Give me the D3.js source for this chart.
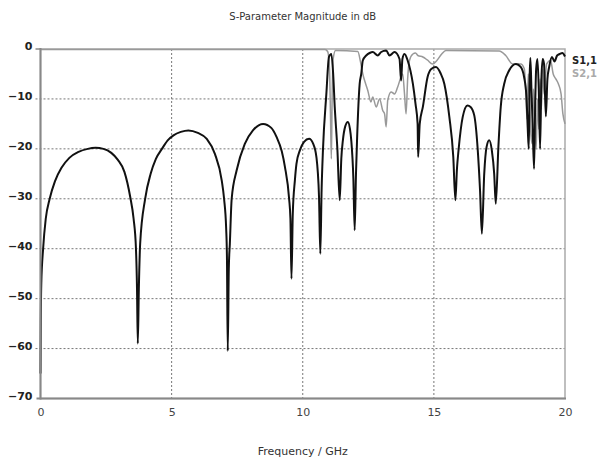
<!DOCTYPE html>
<html>
<head>
<meta charset="utf-8">
<script src="https://cdn.jsdelivr.net/npm/d3@7"></script>
<style>
  body { margin: 0; background: #fff; }
  svg { display: block; font-family: "DejaVu Sans", Verdana, sans-serif; }
</style>
</head>
<body>
<svg id="chart" width="607" height="463"></svg>
<script>
// values (GHz / dB)
const s11Freq = [0, 0.01, 0.03, 0.1, 0.2, 0.35, 0.55, 0.8, 1.1, 1.45, 1.8, 2.1, 2.4, 2.7, 2.95, 3.2, 3.42, 3.55, 3.64, 3.68, 3.71, 3.75, 3.8,
  3.99, 4.2, 4.4, 4.63, 4.85, 5.07, 5.35, 5.64, 6.0, 6.34, 6.65, 6.91, 7.0, 7.08, 7.11, 7.14, 7.18, 7.22,
  7.29, 7.48, 7.79, 8.1, 8.49, 8.8, 9.0, 9.2, 9.32, 9.48, 9.53, 9.57, 9.62, 9.7, 9.76, 9.89,
  10.05, 10.24, 10.4, 10.52, 10.62, 10.67, 10.72, 10.77, 10.9, 11.0, 11.09, 11.16, 11.22, 11.32, 11.41, 11.47,
  11.53, 11.62, 11.72, 11.8, 11.85, 11.93, 11.98, 12.03, 12.07, 12.17, 12.23, 12.29, 12.42, 12.55, 12.67,
  12.86, 12.99, 13.18, 13.31, 13.5, 13.69, 13.75, 13.8, 13.88, 14.0, 14.2, 14.3, 14.38, 14.4, 14.46, 14.58,
  14.76, 14.9, 15.08, 15.25, 15.4, 15.59, 15.74, 15.82, 15.88, 15.94, 16.1, 16.28, 16.4, 16.54, 16.67, 16.76,
  16.83, 16.92, 17.01, 17.11, 17.21, 17.3, 17.36, 17.46, 17.55, 17.68, 17.87, 18.13, 18.31, 18.44, 18.53,
  18.58, 18.62, 18.65, 18.68, 18.72, 18.77, 18.82, 18.86, 18.9, 18.95, 19.0, 19.05, 19.1, 19.15, 19.2,
  19.27, 19.33, 19.4, 19.5, 19.6, 19.7, 19.8, 19.9, 20.0];
const s11Db = [-65, -55, -47, -40, -34, -30, -26.5, -23.8, -21.8, -20.6, -20, -19.8, -20, -20.8, -22.2, -24.6, -29.6, -34, -40, -48, -59, -48, -39,
  -30, -25, -22, -20, -18.3, -17.3, -16.6, -16.3, -16.8, -18, -21, -26.3, -30, -36, -42, -60.5, -44, -39,
  -30, -24.3, -19, -16.3, -15, -15.8, -17.6, -20.5, -23.6, -30, -34, -46, -33, -26.3, -23, -20.3,
  -18.6, -18, -19, -21.6, -29.6, -41, -28, -20.3, -9, -1.6, -1, -5, -11.6, -20, -30.3, -22,
  -18.3, -15.5, -14.6, -16, -18.3, -26, -36.3, -25, -18.3, -7, -5, -2.3, -1.3, -0.8, -0.6,
  -1.3, -0.6, -0.3, -1.3, -0.6, -2, -6.3, -2, -1, -2.3, -7, -11, -15, -21.6, -15, -11.6,
  -5.6, -4, -3.6, -4.8, -7, -13.6, -21.6, -30.3, -24, -20.3, -13.6, -11.3, -11.6, -13.3, -20, -28.3,
  -37, -25, -19.6, -18.3, -20.3, -25, -31, -19.6, -11.6, -7, -4.3, -3, -3.6, -5.6, -9.6,
  -16, -20, -6, -1.8, -8, -16, -24, -12, -4, -2, -8, -20, -6, -2, -3,
  -13.5, -6, -3.5, -1.6, -2.5, -1.3, -1, -0.8, -1.5];

const s21Freq = [0, 10.85, 10.95, 11.02, 11.06, 11.09, 11.12, 11.16, 11.25, 12.1, 12.2, 12.29, 12.4, 12.48, 12.6, 12.67,
  12.8, 12.93, 13.05, 13.12, 13.18, 13.24, 13.37, 13.5, 13.62, 13.81, 13.88, 13.94, 14.0, 14.07, 14.2, 14.3,
  14.39, 14.58, 14.75, 14.95, 15.1, 15.3, 15.46, 17.49, 17.74, 18.0, 18.31, 18.45, 18.5, 18.55, 18.6, 18.65,
  18.7, 18.75, 18.8, 18.85, 18.9, 18.95, 19.0, 19.05, 19.1, 19.15, 19.2, 19.3, 19.45, 19.55, 19.65, 19.75,
  19.85, 19.92, 20.0];
const s21Db = [-0.1, -0.1, -0.5, -4, -14, -22, -10, -2, -0.3, -0.5, -2.5, -5, -7, -8.3, -10.6, -9.6,
  -11.6, -10, -12.3, -13, -15.6, -10.3, -8.6, -9, -7.6, -5, -9, -13, -6, -2.3, -1, -0.8,
  -1.3, -1.6, -2.2, -3, -2.4, -1, -0.3, -0.4, -1.3, -3, -3, -4, -8, -14, -5, -10,
  -17, -19, -8, -14, -20, -10, -16, -6, -12, -4, -9, -3, -2.3, -5, -6, -7,
  -9, -13, -15];

const xTicks = [0, 5, 10, 15, 20];
const yTicks = [0, -10, -20, -30, -40, -50, -60, -70];
const seriesNames = ["S1,1", "S2,1"];

const svg = d3.select("#chart");
const plotLeft = 40.5, plotRight = 565, plotTop = 49, plotBottom = 398.5;

const x = d3.scaleLinear().domain([0, 20]).range([plotLeft, plotRight]);
const y = d3.scaleLinear().domain([-70, 0]).range([plotBottom, plotTop]);

// grid
svg.append("g")
  .selectAll("line")
  .data(yTicks.filter(d => d !== 0 && d !== -70))
  .join("line")
    .attr("x1", plotLeft - 5).attr("x2", plotRight)
    .attr("y1", d => y(d)).attr("y2", d => y(d))
    .attr("stroke", "#777").attr("stroke-width", 1)
    .attr("stroke-dasharray", "2,2");

svg.append("g")
  .selectAll("line")
  .data(xTicks.filter(d => d !== 0 && d !== 20))
  .join("line")
    .attr("x1", d => x(d)).attr("x2", d => x(d))
    .attr("y1", plotTop).attr("y2", plotBottom)
    .attr("stroke", "#777").attr("stroke-width", 1)
    .attr("stroke-dasharray", "2,2");

// frame
svg.append("rect")
  .attr("x", plotLeft).attr("y", plotTop)
  .attr("width", plotRight - plotLeft).attr("height", plotBottom - plotTop)
  .attr("fill", "none").attr("stroke", "#aaa").attr("stroke-width", 1.5);

// curves
const line = d3.line()
  .x(d => x(d[0]))
  .y(d => y(d[1]))
  .curve(d3.curveMonotoneX);

svg.append("path")
  .datum(d3.zip(s21Freq, s21Db))
  .attr("fill", "none")
  .attr("stroke", "#999")
  .attr("stroke-width", 1.5)
  .attr("d", line);

svg.append("path")
  .datum(d3.zip(s11Freq, s11Db))
  .attr("fill", "none")
  .attr("stroke", "#111")
  .attr("stroke-width", 2)
  .attr("d", line);

// axes lines (left / bottom are darker)
svg.append("line")
  .attr("x1", plotLeft).attr("x2", plotLeft).attr("y1", plotTop - 1).attr("y2", plotBottom + 1)
  .attr("stroke", "#888").attr("stroke-width", 2);
svg.append("line")
  .attr("x1", plotLeft - 4).attr("x2", plotRight + 1).attr("y1", plotBottom).attr("y2", plotBottom)
  .attr("stroke", "#888").attr("stroke-width", 2);
svg.append("line")
  .attr("x1", plotLeft - 5).attr("x2", plotLeft).attr("y1", plotTop).attr("y2", plotTop)
  .attr("stroke", "#888").attr("stroke-width", 1.5);

// tick labels
svg.append("g")
  .attr("transform", `translate(${plotLeft},0)`)
  .call(d3.axisLeft(y).tickValues(yTicks).tickSize(0).tickPadding(8))
  .call(g => g.select(".domain").remove())
  .selectAll("text")
    .attr("dy", "0.05em")
    .attr("fill", "#222")
    .style("font-size", "11px")
    .style("font-weight", "bold")
    .style("font-family", "'DejaVu Sans', sans-serif");

svg.append("g")
  .attr("transform", `translate(0,${plotBottom})`)
  .call(d3.axisBottom(x).tickValues(xTicks).tickSize(0).tickPadding(10).tickFormat(d3.format("d")))
  .call(g => g.select(".domain").remove())
  .selectAll("text")
    .attr("fill", "#444")
    .style("font-size", "11px")
    .style("font-family", "'DejaVu Sans', sans-serif");

// titles
svg.append("text")
  .attr("x", (plotLeft + plotRight) / 2).attr("y", 20)
  .attr("text-anchor", "middle")
  .attr("fill", "#333")
  .style("font-size", "10px")
  .text("S-Parameter Magnitude in dB");

svg.append("text")
  .attr("x", (plotLeft + plotRight) / 2).attr("y", 455)
  .attr("text-anchor", "middle")
  .attr("fill", "#333")
  .style("font-size", "11px")
  .text("Frequency / GHz");

// legend
svg.append("g")
  .selectAll("text")
  .data(seriesNames)
  .join("text")
    .attr("x", 572)
    .attr("y", (d, i) => 64 + i * 13)
    .attr("fill", (d, i) => i === 0 ? "#222" : "#aaa")
    .style("font-size", "10px")
    .style("font-weight", "bold")
    .text(d => d);
</script>
</body>
</html>
